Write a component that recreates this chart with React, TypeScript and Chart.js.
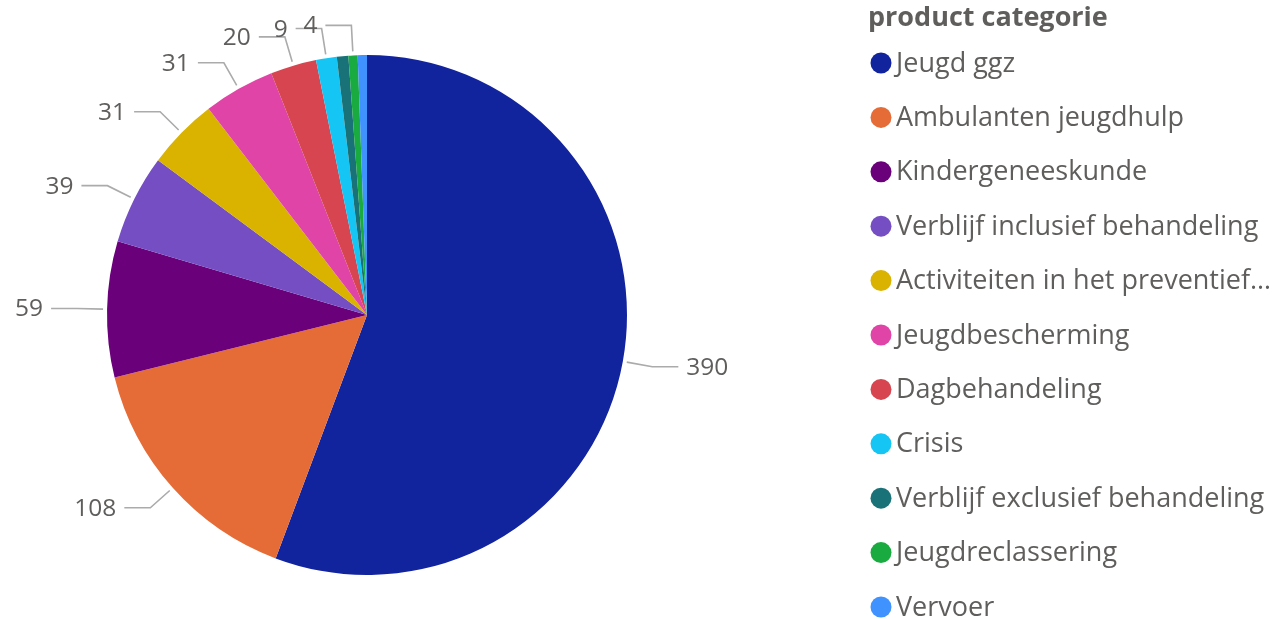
import React, { useEffect, useRef } from "react";
import { Chart, registerables } from "chart.js";

Chart.register(...registerables);

const categories = [
  "Jeugd ggz",
  "Ambulanten jeugdhulp",
  "Kindergeneeskunde",
  "Verblijf inclusief behandeling",
  "Activiteiten in het preventief…",
  "Jeugdbescherming",
  "Dagbehandeling",
  "Crisis",
  "Verblijf exclusief behandeling",
  "Jeugdreclassering",
  "Vervoer",
];
const values = [390, 108, 59, 39, 31, 31, 20, 9, 5, 4, 4];
const colors = [
  "#12239E",
  "#E66C37",
  "#6B007B",
  "#744EC2",
  "#D9B300",
  "#E044A7",
  "#D64550",
  "#15C6F4",
  "#197278",
  "#1AAB40",
  "#4092FF",
];
const hiddenLabels = ["Verblijf exclusief behandeling", "Vervoer"];
const legendTitle = "product categorie";

const TEXT = "#605E5C";
const LINE = "#ABABAB";
const FONT = "'Open Sans', 'Noto Sans', sans-serif";

const labelPlugin = {
  id: "pieLabels",
  afterDatasetsDraw(chart: any) {
    const ctx = chart.ctx as CanvasRenderingContext2D;
    const meta = chart.getDatasetMeta(0);
    ctx.save();
    meta.data.forEach((arc: any, i: number) => {
      if (hiddenLabels.includes(categories[i])) return;
      const { x, y, startAngle, endAngle, outerRadius } = arc.getProps(
        ["x", "y", "startAngle", "endAngle", "outerRadius"],
        true
      );
      const mid = (startAngle + endAngle) / 2;
      const c = Math.cos(mid);
      const s = Math.sin(mid);
      const x1 = x + (outerRadius + 4) * c;
      const y1 = y + (outerRadius + 4) * s;
      const x2 = x + (outerRadius + 30) * c;
      const y2 = y + (outerRadius + 30) * s;
      const dir = c >= 0 ? 1 : -1;
      const x3 = x2 + dir * 26;
      ctx.strokeStyle = LINE;
      ctx.lineWidth = 1.6;
      ctx.beginPath();
      ctx.moveTo(x1, y1);
      ctx.lineTo(x2, y2);
      ctx.lineTo(x3, y2);
      ctx.stroke();
      ctx.fillStyle = TEXT;
      ctx.font = `24.5px ${FONT}`;
      ctx.textBaseline = "middle";
      ctx.textAlign = dir > 0 ? "left" : "right";
      ctx.fillText(String(values[i]), x3 + dir * 8, y2 + 1);
    });
    ctx.restore();
  },
};

const legendPlugin = {
  id: "customLegend",
  afterDraw(chart: any) {
    const ctx = chart.ctx as CanvasRenderingContext2D;
    ctx.save();
    ctx.fillStyle = TEXT;
    ctx.textBaseline = "middle";
    ctx.textAlign = "left";
    ctx.font = `bold 27px ${FONT}`;
    ctx.fillText(legendTitle, 868, 18);
    ctx.font = `27px ${FONT}`;
    categories.forEach((cat, i) => {
      const cy = 63 + i * 54.4;
      ctx.fillStyle = colors[i];
      ctx.beginPath();
      ctx.arc(881, cy, 10.5, 0, Math.PI * 2);
      ctx.fill();
      ctx.fillStyle = TEXT;
      ctx.fillText(cat, 896, cy + 1);
    });
    ctx.restore();
  },
};

export default function App() {
  const ref = useRef<HTMLCanvasElement | null>(null);
  useEffect(() => {
    document.body.style.margin = "0";
    const canvas = ref.current!;
    const chart = new Chart(canvas, {
      type: "pie",
      data: {
        labels: categories,
        datasets: [
          {
            data: values,
            backgroundColor: colors,
            borderWidth: 0,
          },
        ],
      },
      options: {
        responsive: false,
        animation: false,
        devicePixelRatio: 1,
        layout: { padding: { left: 107, right: 651, top: 55, bottom: 44 } },
        plugins: {
          legend: { display: false },
          tooltip: { enabled: false },
        },
      },
      plugins: [labelPlugin, legendPlugin],
    });
    return () => chart.destroy();
  }, []);
  return (
    <div style={{ width: 1278, height: 619, background: "#fff" }}>
      <canvas ref={ref} width={1278} height={619} />
    </div>
  );
}
